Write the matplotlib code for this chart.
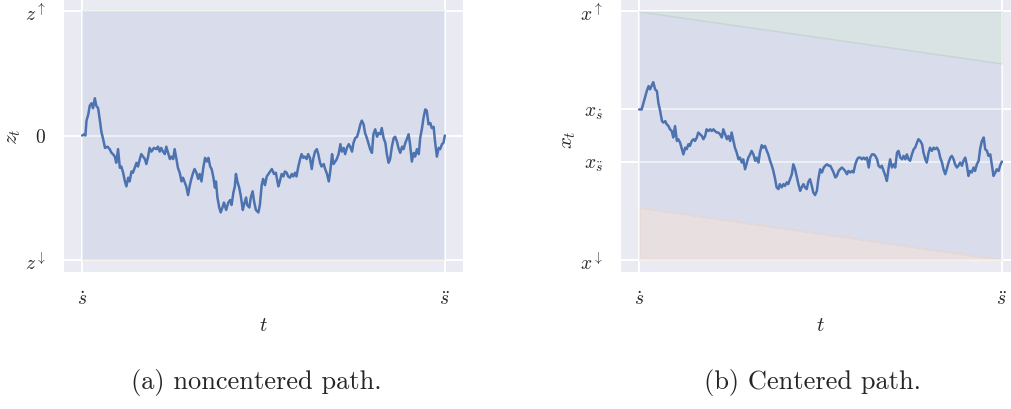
import matplotlib
matplotlib.use("Agg")
import matplotlib.pyplot as plt
import seaborn as sns

sns.set_theme(style="darkgrid")
plt.rcParams["font.family"] = "serif"
plt.rcParams["font.serif"] = ["cmr10"]
plt.rcParams["mathtext.fontset"] = "cm"
plt.rcParams["axes.formatter.use_mathtext"] = True

# ---------------- data ----------------
# (a) noncentered path z_t on [s_dot, s_ddot] = [0, 1], boundaries z_down=-1, z_up=1
t_a = [0, .006, .009, .012, .017, .021, .026, .030, .035, .039,
       .044, .049, .053, .058, .063, .070, .076, .081, .085, .090,
       .094, .099, .104, .108, .113, .118, .122, .127, .131, .136,
       .140, .145, .150, .154, .159, .163, .168, .173, .177, .182,
       .186, .191, .198, .205, .209, .214, .218, .223, .228, .232,
       .237, .242, .246, .251, .255, .260, .264, .269, .274, .278,
       .283, .287, .292, .297, .301, .306, .310, .315, .320, .324,
       .329, .334, .339, .344, .348, .353, .357, .362, .366, .369,
       .373, .378, .382, .388, .391, .397, .403, .408, .412, .417,
       .421, .424, .428, .433, .437, .443, .446, .452, .455, .461,
       .465, .470, .474, .479, .486, .490, .495, .499, .504, .509,
       .516, .523, .529, .534, .541, .545, .550, .555, .559, .564,
       .568, .573, .578, .582, .587, .591, .596, .601, .605, .610,
       .614, .619, .623, .628, .633, .637, .642, .647, .651, .656,
       .660, .666, .670, .675, .680, .684, .689, .693, .698, .702,
       .707, .712, .716, .721, .725, .730, .735, .739, .744, .748,
       .753, .758, .762, .767, .771, .776, .780, .785, .790, .794,
       .799, .803, .808, .813, .817, .822, .826, .831, .836, .840,
       .845, .849, .854, .859, .863, .868, .872, .877, .882, .886,
       .891, .895, .900, .904, .909, .914, .918, .923, .928, .932,
       .937, .941, .946, .950, .955, .960, .964, .969, .973, .978,
       .983, .987, .992, .996, 1.0]
z_a = [0, .01, 0, .12, .17, .24, .26, .22, .30, .24,
       .22, .12, .03, -.03, -.10, -.09, -.11, -.14, -.15, -.17,
       -.22, -.11, -.26, -.25, -.30, -.37, -.41, -.34, -.37, -.29,
       -.30, -.26, -.22, -.25, -.19, -.15, -.17, -.19, -.23, -.17,
       -.10, -.13, -.10, -.11, -.09, -.13, -.10, -.13, -.15, -.09,
       -.14, -.19, -.17, -.19, -.11, -.19, -.26, -.30, -.37, -.34,
       -.38, -.41, -.48, -.40, -.35, -.30, -.27, -.30, -.35, -.31,
       -.37, -.26, -.18, -.21, -.18, -.25, -.27, -.34, -.42, -.37,
       -.50, -.58, -.62, -.57, -.54, -.60, -.54, -.52, -.56, -.46,
       -.41, -.31, -.37, -.42, -.48, -.60, -.56, -.50, -.56, -.58,
       -.50, -.45, -.53, -.60, -.62, -.56, -.40, -.35, -.40, -.33,
       -.30, -.27, -.31, -.30, -.41, -.37, -.31, -.33, -.29, -.30,
       -.33, -.34, -.31, -.33, -.30, -.33, -.25, -.19, -.15, -.18,
       -.17, -.19, -.15, -.18, -.27, -.19, -.13, -.11, -.15, -.22,
       -.25, -.23, -.27, -.31, -.37, -.29, -.15, -.23, -.21, -.19,
       -.15, -.07, -.13, -.10, -.15, -.10, -.07, -.09, -.13, -.06,
       -.02, -.01, .03, .09, .12, .09, .02, -.02, -.07, -.11,
       -.14, .01, .05, -.01, .02, .01, .06, -.02, -.06, -.15,
       -.22, -.19, -.09, -.02, -.01, -.05, -.10, -.14, -.09, -.11,
       -.06, -.03, .01, -.07, -.21, -.14, -.17, -.11, -.15, -.02,
       .06, .14, .21, .20, .09, .10, .06, .07, -.05, -.17,
       -.10, -.11, -.07, -.06, 0]

# (b) centered path x_t, boundaries x_down=0, x_up=100
t_b = [0, .007, .012, .017, .021, .026, .030, .035, .039, .044,
       .049, .053, .058, .063, .067, .072, .076, .081, .085, .090,
       .094, .099, .104, .108, .113, .118, .122, .127, .131, .136,
       .140, .145, .150, .154, .159, .163, .168, .173, .177, .182,
       .186, .191, .196, .200, .205, .209, .214, .218, .223, .228,
       .232, .237, .242, .246, .251, .255, .260, .264, .269, .274,
       .278, .283, .287, .292, .297, .301, .306, .310, .315, .320,
       .324, .329, .333, .338, .342, .347, .352, .356, .361, .366,
       .370, .375, .379, .384, .388, .393, .398, .402, .407, .411,
       .416, .421, .425, .430, .434, .439, .444, .448, .453, .457,
       .462, .466, .471, .476, .480, .485, .490, .494, .499, .504,
       .509, .513, .518, .523, .527, .532, .536, .541, .545, .550,
       .554, .559, .564, .568, .573, .577, .582, .587, .591, .596,
       .601, .605, .610, .614, .619, .623, .628, .633, .637, .642,
       .647, .651, .656, .660, .665, .669, .674, .679, .683, .688,
       .692, .697, .702, .706, .711, .715, .720, .725, .729, .734,
       .738, .743, .747, .752, .757, .761, .766, .770, .775, .780,
       .784, .789, .793, .798, .802, .807, .812, .816, .821, .826,
       .830, .835, .839, .844, .848, .853, .858, .862, .867, .871,
       .876, .880, .885, .890, .894, .899, .903, .908, .912, .917,
       .922, .926, .931, .936, .940, .945, .950, .954, .959, .963,
       .968, .972, .977, .982, .986, .991, .995, 1.0]
x_b = [60.5, 60.5, 63.2, 65.9, 67.9, 69.9, 68.6, 70.2, 71.5, 68.6,
       67.9, 63.2, 59.8, 55.8, 55.2, 55.8, 54.5, 53.8, 52.5, 51.8,
       49.2, 53.8, 47.8, 48.5, 47.1, 44.5, 42.4, 45.1, 44.5, 46.5,
       45.8, 47.8, 48.5, 47.8, 49.2, 51.2, 50.5, 49.8, 48.5, 49.8,
       52.5, 51.8, 52.5, 51.8, 52.5, 51.8, 51.2, 51.2, 50.5, 49.2,
       52.5, 50.5, 48.5, 49.8, 47.8, 51.2, 47.8, 45.1, 43.1, 40.4,
       41.1, 39.1, 40.4, 36.4, 39.1, 41.1, 42.4, 43.8, 42.4, 39.8,
       41.1, 39.1, 43.1, 46.1, 45.1, 45.8, 43.8, 42.4, 39.8, 37.8,
       35.7, 32.4, 29.1, 28.4, 30.4, 29.1, 30.4, 29.7, 31.1, 30.4,
       32.4, 34.4, 38.4, 36.4, 33.7, 30.4, 27.7, 29.1, 30.4, 29.1,
       28.4, 31.1, 32.4, 29.7, 27.1, 26.0, 27.7, 32.4, 36.4, 35.1,
       37.1, 37.8, 38.4, 37.8, 37.8, 36.4, 35.1, 33.1, 33.7, 35.7,
       36.4, 37.1, 36.4, 35.7, 34.4, 35.7, 35.1, 35.7, 35.1, 38.4,
       40.4, 41.1, 41.1, 40.4, 41.1, 40.4, 41.1, 37.1, 41.1, 42.4,
       42.4, 41.8, 40.4, 37.8, 37.1, 37.8, 35.7, 33.7, 31.7, 37.1,
       40.4, 37.1, 38.4, 37.1, 43.1, 43.8, 41.1, 40.4, 41.8, 40.4,
       42.4, 40.4, 39.8, 42.4, 44.5, 45.1, 47.1, 48.5, 47.8, 46.5,
       43.1, 40.4, 39.1, 43.1, 45.1, 43.8, 45.1, 44.5, 45.1, 43.8,
       41.1, 39.1, 36.4, 34.4, 36.4, 39.1, 41.1, 41.8, 40.4, 38.4,
       37.1, 37.8, 39.1, 37.8, 39.8, 41.1, 38.4, 33.7, 35.7, 35.1,
       37.1, 35.7, 38.4, 39.8, 44.5, 47.8, 49.2, 44.5, 43.8, 41.8,
       42.4, 38.4, 33.7, 35.1, 36.4, 35.7, 37.8, 39.5]

# interval end points and boundary values
t_ends = [0, 1]
z_down, z_up = -1, 1
x_down, x_up = 0, 100
x_sdot, x_sddot = 60.5, 39.5
upper_b = [100, 79]   # upper region edge at s_dot, s_ddot
lower_b = [21, 0]     # lower region edge at s_dot, s_ddot

t_ticklabels = [r"$\dot{s}$", r"$\ddot{s}$"]
z_ticks = [z_down, 0, z_up]
z_ticklabels = [r"$z^{\downarrow}$", r"$0$", r"$z^{\uparrow}$"]
x_ticks = [x_down, x_sddot, x_sdot, x_up]
x_ticklabels = [r"$x^{\downarrow}$", r"$x_{\ddot{s}}$", r"$x_{\dot{s}}$", r"$x^{\uparrow}$"]

# ---------------- figure ----------------
W, H = 1011, 410
fig = plt.figure(figsize=(W / 100, H / 100), dpi=100)
ax1 = fig.add_axes([64 / W, 137 / H, 399 / W, 273 / H])
ax2 = fig.add_axes([621 / W, 137 / H, 399 / W, 273 / H])

blue, orange, green = "#4C72B0", "#DD8452", "#55A868"
path_kw = dict(color=blue, lw=1.8, zorder=5)


def region(ax, lo, hi, color, edge=True):
    ax.fill_between(t_ends, lo, hi, facecolor=color,
                    edgecolor=color if edge else "none",
                    alpha=0.1, lw=1.3 if edge else 0, zorder=2)


# (a)
region(ax1, [z_down] * 2, [z_up] * 2, blue, edge=False)
region(ax1, [z_up] * 2, [z_up] * 2, green)
region(ax1, [z_down] * 2, [z_down] * 2, orange)
ax1.plot(t_a, z_a, **path_kw)
ax1.set_xlim(-0.05, 1.05)
ax1.set_ylim(-1.1, 1.1)
ax1.set_yticks(z_ticks)
ax1.set_yticklabels(z_ticklabels)
ax1.set_ylabel(r"$z_t$", fontsize=15)
ax1.yaxis.set_label_coords(-0.103, 0.5)

# (b)
region(ax2, lower_b, upper_b, blue, edge=False)
region(ax2, upper_b, [x_up] * 2, green)
region(ax2, [x_down] * 2, lower_b, orange)
ax2.plot(t_b, x_b, **path_kw)
ax2.set_xlim(-0.05, 1.05)
ax2.set_ylim(-5, 105)
ax2.set_yticks(x_ticks)
ax2.set_yticklabels(x_ticklabels)
ax2.set_ylabel(r"$x_t$", fontsize=15)
ax2.yaxis.set_label_coords(-0.108, 0.49)

for ax in (ax1, ax2):
    ax.set_xticks(t_ends)
    ax.set_xticklabels(t_ticklabels)
    ax.set_xlabel(r"$t$", fontsize=15)
    ax.xaxis.set_label_coords(0.5, -0.16)
    ax.tick_params(labelsize=14, length=0, pad=13)
    ax.grid(True, color="white", lw=1.4)
    for s in ax.spines.values():
        s.set_visible(False)

fig.text(256 / W, 1 - 383 / H, "(a) noncentered path.", ha="center",
         va="center", fontsize=19, family="cmr10")
fig.text(813 / W, 1 - 383 / H, "(b) Centered path.", ha="center",
         va="center", fontsize=19, family="cmr10")

fig.savefig("out.png", dpi=100)
